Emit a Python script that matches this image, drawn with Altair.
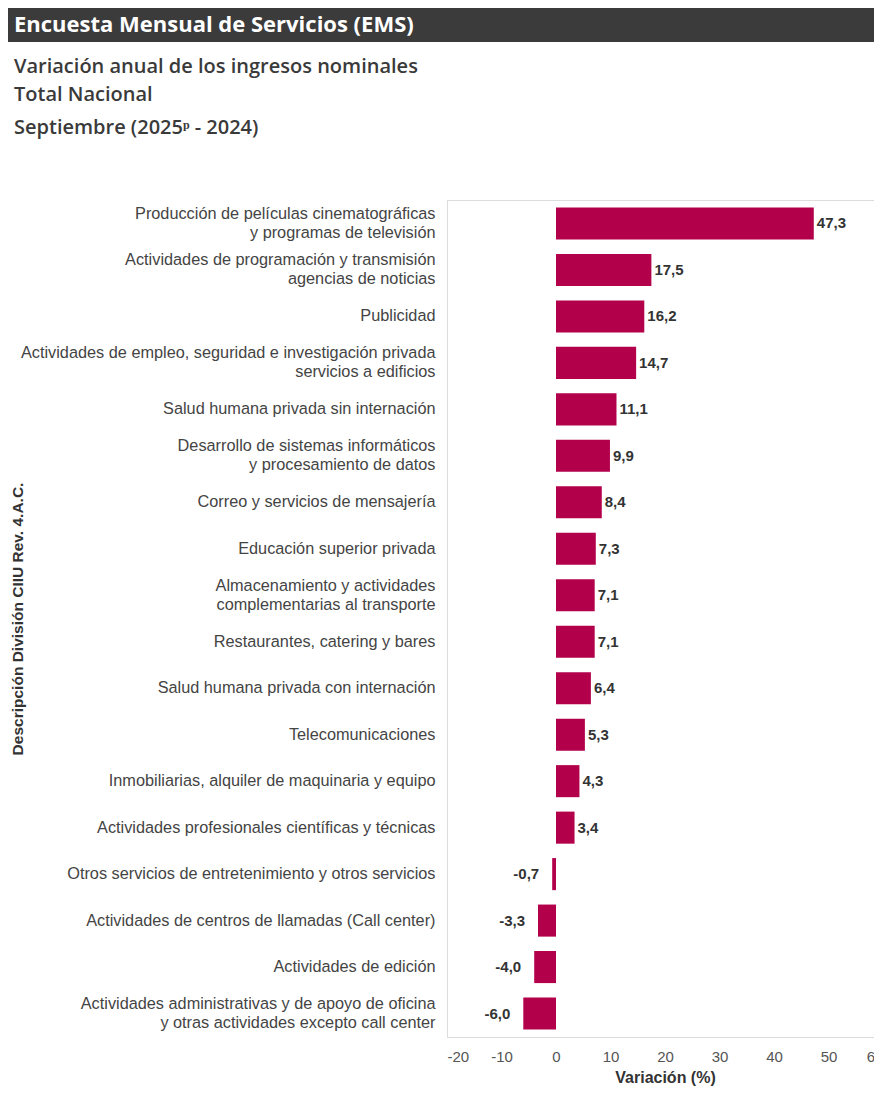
import altair as alt
import pandas as pd

HEADER = "Encuesta Mensual de Servicios (EMS)"
SUBTITLES = [
    "Variación anual de los ingresos nominales",
    "Total Nacional",
    "Septiembre (2025ᵖ - 2024)",
]

categories = [
    "Producción de películas cinematográficas\ny programas de televisión",
    "Actividades de programación y transmisión\nagencias de noticias",
    "Publicidad",
    "Actividades de empleo, seguridad e investigación privada\nservicios a edificios",
    "Salud humana privada sin internación",
    "Desarrollo de sistemas informáticos\ny procesamiento de datos",
    "Correo y servicios de mensajería",
    "Educación superior privada",
    "Almacenamiento y actividades\ncomplementarias al transporte",
    "Restaurantes, catering y bares",
    "Salud humana privada con internación",
    "Telecomunicaciones",
    "Inmobiliarias, alquiler de maquinaria y equipo",
    "Actividades profesionales científicas y técnicas",
    "Otros servicios de entretenimiento y otros servicios",
    "Actividades de centros de llamadas (Call center)",
    "Actividades de edición",
    "Actividades administrativas y de apoyo de oficina\ny otras actividades excepto call center",
]
values = [47.3, 17.5, 16.2, 14.7, 11.1, 9.9, 8.4, 7.3, 7.1, 7.1, 6.4, 5.3, 4.3, 3.4, -0.7, -3.3, -4.0, -6.0]
x_ticks = [-20, -10, 0, 10, 20, 30, 40, 50, 60]

df = pd.DataFrame({"cat": categories, "val": values})
df["lbl"] = df["val"].map(lambda v: f"{v:.1f}".replace(".", ","))

W, H = 427, 837
BAR = "#B3004B"
LEFT = 439
TOP = 192

y_enc = alt.Y(
    "cat:N",
    sort=categories,
    scale=alt.Scale(paddingInner=0.31, paddingOuter=0.16),
    axis=alt.Axis(
        title="Descripción División CIIU Rev. 4.A.C.",
        titleFont="Liberation Sans", titleFontSize=15.5, titleFontWeight="bold",
        titleColor="#333333", titleX=-422, titleY=H / 2,
        labelFont="Liberation Sans", labelFontSize=16.3, labelColor="#444444",
        labelPadding=12, labelLineHeight=19, ticks=False,
        labelExpr="split(datum.label, '\\n')",
        labelOffset=alt.condition("indexof(datum.label, '\\n') >= 0", alt.value(-9.5), alt.value(0)),
        domainColor="#dcdcdc", labelLimit=600,
    ),
)
x_enc = alt.X(
    "val:Q",
    scale=alt.Scale(domain=[-20, 60], range=[0, 436], nice=False),
    axis=alt.Axis(
        values=x_ticks, title="Variación (%)", grid=False, ticks=False,
        labelExpr="replace(datum.label, '\u2212', '-')",
        labelFont="Liberation Sans", labelFontSize=15, labelColor="#555555",
        labelPadding=12, titleFont="Liberation Sans", titleFontSize=16,
        titleFontWeight="bold", titleColor="#333333", titlePadding=5,
        domainColor="#dcdcdc",
    ),
)

base = alt.Chart(df)
bars = base.mark_bar(color=BAR).encode(x=x_enc, y=y_enc)
pos = base.transform_filter("datum.val >= 0").mark_text(
    align="left", baseline="middle", dx=3, font="Liberation Sans",
    fontSize=15, fontWeight="bold", color="#333333"
).encode(x="val:Q", y=alt.Y("cat:N", sort=categories), text="lbl:N")
neg = base.transform_filter("datum.val < 0").mark_text(
    align="right", baseline="middle", dx=-13, font="Liberation Sans",
    fontSize=15, fontWeight="bold", color="#333333"
).encode(x="val:Q", y=alt.Y("cat:N", sort=categories), text="lbl:N")

hdr_df = pd.DataFrame({"t": [HEADER]})
hdr_rect = alt.Chart(hdr_df).mark_rect(color="#3b3b3b").encode(
    x=alt.value(-LEFT), x2=alt.value(W), y=alt.value(-TOP), y2=alt.value(-158)
)
hdr_text = alt.Chart(hdr_df).mark_text(
    align="left", baseline="middle", font="Open Sans", fontSize=22,
    fontWeight="bold", color="white"
).encode(x=alt.value(-433), y=alt.value(-175), text="t:N")

sub_layers = []
for txt, yy in zip(SUBTITLES, [-133, -105, -72]):
    sub_layers.append(
        alt.Chart(pd.DataFrame({"t": [txt]})).mark_text(
            align="left", baseline="middle", font="Open Sans", fontSize=20,
            fontWeight=600, color="#3a3a3a"
        ).encode(x=alt.value(-433), y=alt.value(yy), text="t:N")
    )

chart = alt.layer(bars, pos, neg, hdr_rect, hdr_text, *sub_layers).properties(
    width=W, height=H,
    autosize=alt.AutoSizeParams(type="none"),
    padding={"left": LEFT, "top": TOP, "right": 0, "bottom": 50},
).configure_view(stroke=None).configure(background="white")

chart.save("out.html", embed_options={"renderer": "svg", "actions": False})
